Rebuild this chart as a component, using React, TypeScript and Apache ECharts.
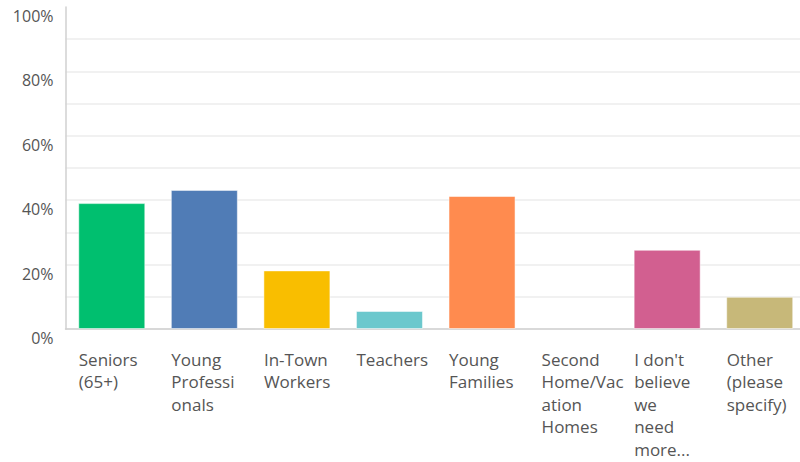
import React, { useEffect, useRef } from "react";
import * as echarts from "echarts";

const categories = [
  "Seniors\n(65+)",
  "Young\nProfessi\nonals",
  "In-Town\nWorkers",
  "Teachers",
  "Young\nFamilies",
  "Second\nHome/Vac\nation\nHomes",
  "I don't\nbelieve\nwe\nneed\nmore...",
  "Other\n(please\nspecify)",
];
const values = [39.1, 43.2, 18.2, 5.6, 41.3, 0, 24.6, 10.0];
const barColors = ["#00BF6F", "#507CB6", "#F9BE00", "#6BC8CD", "#FF8B4F", "#7D8D93", "#D25F90", "#C7B879"];
const yTicks = [0, 20, 40, 60, 80, 100];

export default function App() {
  const ref = useRef<HTMLDivElement>(null);
  useEffect(() => {
    if (!ref.current) return;
    const chart = echarts.init(ref.current, null, { renderer: "svg" });
    const gridColors = Array.from({ length: 11 }, (_, i) => (i === 10 ? "rgba(0,0,0,0)" : "#ececec"));
    chart.setOption({
      animation: false,
      grid: { left: 65.5, right: 0, top: 7, bottom: 133, containLabel: false },
      xAxis: {
        type: "category",
        data: categories,
        axisLine: { show: true, lineStyle: { color: "#d0d0d0", width: 1.5 } },
        axisTick: { show: false },
        axisLabel: {
          interval: 0,
          margin: 19,
          color: "#555",
          fontFamily: "Open Sans",
          fontSize: 17,
          lineHeight: 22.5,
          formatter: (v: string) => v.split("\n").map((l) => `{a|${l}}`).join("\n"),
          rich: {
            a: { width: 66, align: "left", color: "#555", fontFamily: "Open Sans", fontSize: 17, lineHeight: 22.5 },
          },
        },
      },
      yAxis: {
        type: "value",
        min: 0,
        max: 100,
        interval: 10,
        axisLine: { show: true, lineStyle: { color: "#d0d0d0", width: 1.5 } },
        axisTick: { show: false },
        splitLine: { show: true, lineStyle: { color: gridColors, width: 1.5 } },
        axisLabel: {
          margin: 12,
          color: "#555",
          fontFamily: "Open Sans",
          fontSize: 16,
          verticalAlign: "top",
          lineHeight: 18,
          formatter: (v: number) => (yTicks.includes(v) ? `${v}%` : ""),
        },
      },
      series: [
        {
          type: "bar",
          barWidth: "72.4%",
          data: values.map((v, i) => ({
            value: v,
            itemStyle: {
              color: barColors[i],
              borderColor: "rgba(255,255,255,0.5)",
              borderWidth: v > 0 ? 1 : 0,
            },
          })),
        },
      ],
    });
    return () => chart.dispose();
  }, []);
  return (
    <div style={{ position: "absolute", left: 0, top: 0, width: 800, height: 462, overflow: "hidden" }}>
      <div ref={ref} style={{ width: 806, height: 462 }} />
    </div>
  );
}
